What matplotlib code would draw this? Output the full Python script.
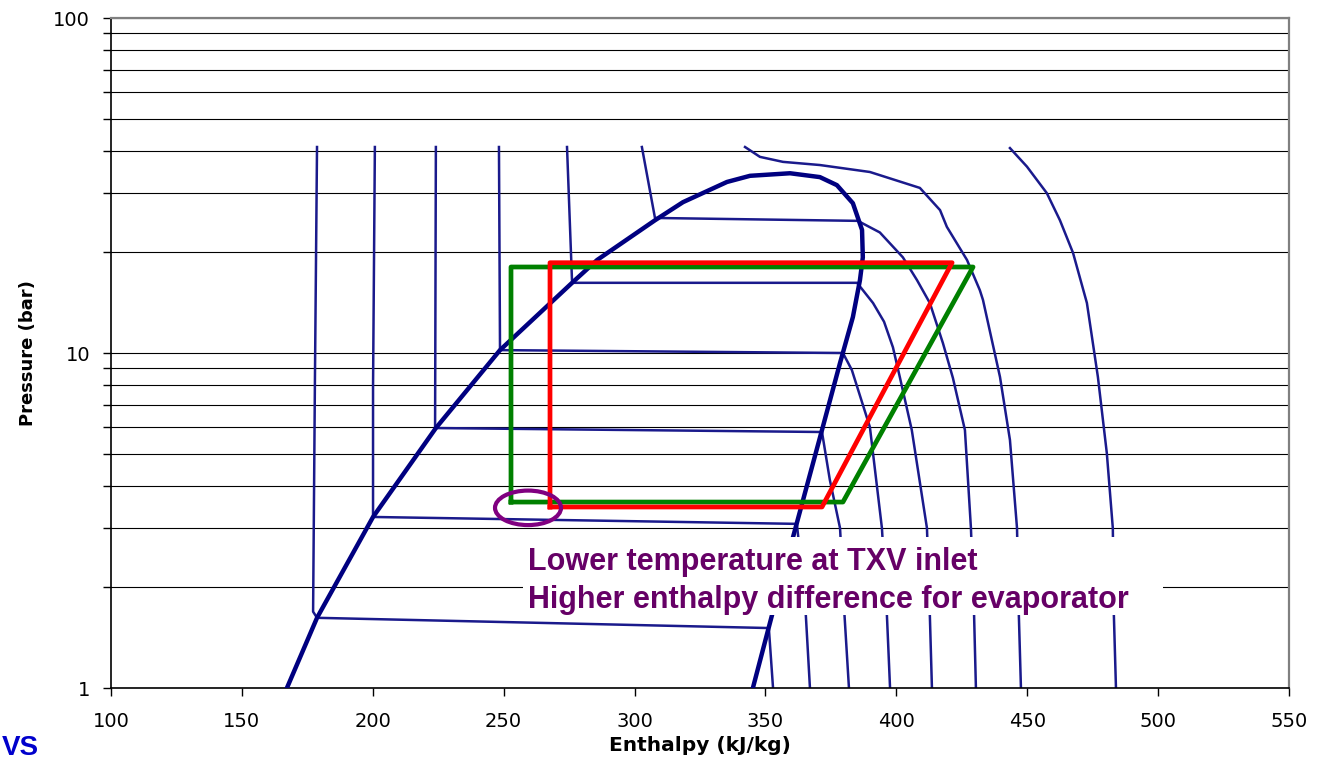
import numpy as np
import matplotlib.pyplot as plt
from matplotlib.patches import Ellipse, Rectangle
from matplotlib.transforms import ScaledTranslation
from matplotlib.ticker import FixedLocator, NullFormatter

plt.rcParams['font.family'] = ['DejaVu Sans']

# saturation dome (enthalpy kJ/kg, pressure bar)
dome_h = [167.2, 178.7, 200.1, 224.1, 248.6, 276.5, 285.7, 307.8, 318.5, 335.3, 344.1, 359.4,
          370.8, 377.3, 383.4, 386.9, 387.2, 386.1, 383.4, 378.5, 371.6, 362.0, 352.5, 345.2]
dome_p = [1.00, 1.62, 3.24, 5.97, 10.2, 16.3, 18.95, 24.9, 28.2, 32.4, 33.8, 34.4,
          33.5, 31.7, 28.0, 23.3, 19.3, 16.5, 12.8, 9.34, 5.89, 3.11, 1.65, 1.00]

# isotherms
iso_a_h = [178.7, 177.9, 177.2, 178.7, 351.3, 352.9]
iso_a_p = [41.2, 8.31, 1.69, 1.62, 1.51, 1.00]
iso_b_h = [200.8, 200.1, 200.1, 362.0, 365.1, 367.0]
iso_b_p = [41.2, 7.92, 3.24, 3.09, 1.83, 1.00]
iso_c_h = [224.1, 223.8, 224.1, 371.6, 374.6, 378.5, 380.2, 381.9]
iso_c_p = [41.2, 6.01, 5.97, 5.81, 4.18, 3.00, 1.65, 1.00]
iso_d_h = [248.2, 248.6, 248.6, 379.6, 383.0, 389.9, 394.5, 396.4, 397.6]
iso_d_p = [41.2, 10.4, 10.2, 10.0, 8.90, 6.01, 3.00, 1.65, 1.00]
iso_e_h = [274.2, 276.1, 276.5, 385.0, 391.1, 395.3, 398.7, 401.4, 405.9, 411.7, 412.8, 413.6]
iso_e_p = [41.2, 16.5, 16.2, 16.2, 14.1, 12.4, 10.4, 8.43, 5.89, 3.00, 1.65, 1.00]
iso_f_h = [302.8, 307.8, 385.3, 393.7, 402.5, 407.9, 412.8, 417.8, 421.6, 426.2, 428.5, 429.7, 430.4]
iso_f_p = [41.2, 25.3, 24.8, 22.9, 19.3, 16.5, 14.1, 10.7, 8.43, 5.89, 3.00, 1.65, 1.00]
iso_g_h = [342.2, 347.9, 356.7, 370.8, 389.9, 409.0, 416.7, 419.3, 427.0, 431.9, 433.1,
           439.6, 443.4, 446.1, 446.8, 447.6]
iso_g_p = [41.2, 38.5, 37.2, 36.4, 34.7, 31.1, 26.7, 23.8, 18.95, 15.4, 14.4,
           8.48, 5.50, 3.00, 1.65, 1.00]
iso_h_h = [443.4, 449.9, 457.5, 462.5, 467.5, 472.8, 477.0, 480.4, 482.7, 483.1, 483.9]
iso_h_p = [40.9, 36.0, 30.0, 24.9, 19.9, 14.1, 8.48, 5.03, 3.00, 1.65, 1.00]

# refrigeration cycles
red_h = [267.7, 267.7, 421.3, 371.6, 267.7]
red_p = [3.47, 18.6, 18.6, 3.47, 3.47]
green_h = [252.8, 252.8, 429.3, 379.6, 252.8]
green_p = [3.59, 18.06, 18.06, 3.59, 3.59]

# TXV inlet marker
mark_h, mark_p = 259.3, 3.45

fig = plt.figure(figsize=(13.21, 7.64), dpi=100)
ax = fig.add_axes([111/1321, 76/764, 1178/1321, 670/764])

isotherms = [(iso_a_h, iso_a_p), (iso_b_h, iso_b_p), (iso_c_h, iso_c_p), (iso_d_h, iso_d_p),
             (iso_e_h, iso_e_p), (iso_f_h, iso_f_p), (iso_g_h, iso_g_p), (iso_h_h, iso_h_p)]
for h, p in isotherms:
    ax.plot(h, p, color='#1a1a8c', lw=1.8, solid_joinstyle='round', zorder=2)

ax.plot(dome_h, dome_p, color='#000080', lw=3.2, solid_joinstyle='round', zorder=3)
ax.plot(green_h, green_p, color='#008000', lw=3.4, zorder=4)
ax.plot(red_h, red_p, color='#ff0000', lw=3.4, zorder=5)

trans = fig.dpi_scale_trans + ScaledTranslation(mark_h, mark_p, ax.transData)
ax.add_patch(Ellipse((0, 0), 0.66, 0.345, transform=trans, fill=False,
                     edgecolor='#800080', lw=3, zorder=6))

ax.set_xlim(100, 550)
ax.set_yscale('log')
ax.set_ylim(1, 100)
ax.set_xticks(np.arange(100, 551, 50))
ax.yaxis.set_major_locator(FixedLocator([1, 10, 100]))
ax.yaxis.set_minor_locator(FixedLocator([2, 3, 4, 5, 6, 7, 8, 9, 20, 30, 40, 50, 60, 70, 80, 90]))
ax.yaxis.set_minor_formatter(NullFormatter())
ax.set_yticklabels(['1', '10', '100'])
ax.yaxis.grid(True, which='both', color='black', lw=0.8)
ax.set_axisbelow(True)

ax.tick_params(axis='y', which='both', direction='out', length=6, width=1, labelsize=14, pad=9)
ax.tick_params(axis='x', direction='out', length=6, width=1, labelsize=14, pad=11)

for s in ['top', 'right']:
    ax.spines[s].set_color('#808080')
    ax.spines[s].set_linewidth(1.6)
for s in ['left', 'bottom']:
    ax.spines[s].set_color('black')
    ax.spines[s].set_linewidth(1.2)

ax.set_xlabel('Enthalpy (kJ/kg)', fontsize=14.5, fontweight='bold')
ax.set_ylabel('Pressure (bar)', fontsize=13, fontweight='bold')
ax.xaxis.set_label_coords(0.5, -0.072)
ax.yaxis.set_label_coords(-0.063, 0.5)

# white text box over the chart
fig.add_artist(Rectangle((523/1321, 149/764), 640/1321, 78/764, transform=fig.transFigure,
                         facecolor='white', edgecolor='none', zorder=2))
fig.text(528/1321, 194/764, 'Lower temperature at TXV inlet', fontsize=22, fontweight='bold',
         family=['Liberation Sans'], color='#660066', va='baseline', zorder=3)
fig.text(528/1321, 156/764, 'Higher enthalpy difference for evaporator', fontsize=22,
         fontweight='bold', family=['Liberation Sans'], color='#660066', va='baseline', zorder=3)

fig.text(2/1321, 9/764, 'VS', fontsize=20, fontweight='bold', family=['Liberation Sans'],
         color='#0000cc', ha='left', va='baseline')

fig.savefig('out.png', dpi=100)
